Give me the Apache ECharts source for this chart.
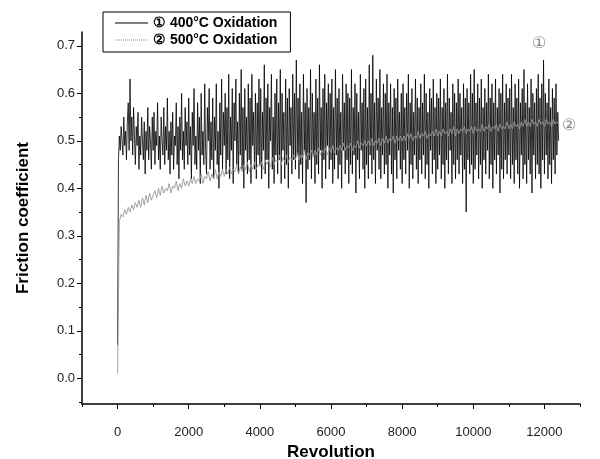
<!DOCTYPE html>
<html>
<head>
<meta charset="utf-8">
<script src="https://cdn.jsdelivr.net/npm/echarts@6/dist/echarts.min.js"></script>
<style>html,body{margin:0;padding:0;background:#fff}#c{width:600px;height:459px}</style>
</head>
<body>
<div id="c"></div>
<script>
// ---- data ----
const seriesNames = ['① 400°C Oxidation', '② 500°C Oxidation'];
const s1Step = 25;   // revolutions between samples of series 1
const s2Step = 50;   // revolutions between samples of series 2
const fric400 = [
  0.07,0.46,0.51,0.48,0.53,0.50,0.47,0.55,0.49,0.52,0.46,0.54,0.58,0.48,0.63,0.50,0.55,0.47,0.57,0.51,
  0.45,0.53,0.49,0.56,0.44,0.51,0.47,0.55,0.50,0.46,0.54,0.43,0.52,0.48,0.57,0.46,0.53,0.50,0.44,0.55,
  0.48,0.56,0.45,0.52,0.49,0.58,0.46,0.51,0.44,0.55,0.50,0.47,0.57,0.45,0.53,0.48,0.59,0.46,0.52,0.43,
  0.54,0.47,0.56,0.44,0.51,0.49,0.58,0.45,0.53,0.42,0.55,0.48,0.60,0.46,0.52,0.44,0.57,0.49,0.54,0.45,
  0.59,0.47,0.53,0.42,0.56,0.49,0.61,0.45,0.51,0.44,0.58,0.48,0.55,0.41,0.60,0.47,0.52,0.45,0.62,0.48,
  0.43,0.57,0.50,0.61,0.44,0.54,0.46,0.59,0.42,0.55,0.48,0.62,0.45,0.52,0.40,0.58,0.47,0.63,0.44,0.56,
  0.49,0.60,0.43,0.57,0.46,0.64,0.42,0.55,0.48,0.61,0.41,0.58,0.50,0.63,0.45,0.54,0.43,0.60,0.47,0.65,
  0.44,0.57,0.40,0.61,0.48,0.55,0.43,0.62,0.46,0.59,0.41,0.64,0.49,0.56,0.44,0.60,0.42,0.58,0.47,0.63,
  0.45,0.61,0.42,0.56,0.48,0.66,0.43,0.59,0.46,0.62,0.40,0.57,0.50,0.64,0.44,0.55,0.41,0.60,0.47,0.63,
  0.43,0.58,0.46,0.65,0.41,0.60,0.48,0.56,0.42,0.63,0.45,0.59,0.40,0.61,0.49,0.57,0.43,0.64,0.46,0.60,
  0.44,0.67,0.47,0.59,0.42,0.62,0.45,0.56,0.41,0.64,0.48,0.58,0.37,0.61,0.44,0.57,0.46,0.65,0.42,0.60,
  0.47,0.56,0.41,0.63,0.45,0.59,0.43,0.66,0.48,0.57,0.40,0.61,0.46,0.64,0.42,0.58,0.49,0.62,0.44,0.60,
  0.46,0.63,0.41,0.57,0.44,0.65,0.47,0.59,0.42,0.61,0.45,0.56,0.40,0.64,0.48,0.58,0.43,0.62,0.46,0.60,
  0.41,0.59,0.45,0.65,0.43,0.57,0.47,0.62,0.39,0.60,0.46,0.56,0.42,0.64,0.48,0.58,0.44,0.61,0.40,0.63,
  0.45,0.57,0.42,0.66,0.47,0.60,0.43,0.68,0.46,0.58,0.41,0.63,0.48,0.59,0.44,0.65,0.42,0.57,0.47,0.62,
  0.43,0.60,0.45,0.64,0.40,0.58,0.47,0.62,0.43,0.57,0.39,0.61,0.46,0.59,0.42,0.63,0.48,0.56,0.44,0.60,
  0.41,0.62,0.46,0.57,0.43,0.60,0.48,0.64,0.40,0.58,0.45,0.61,0.42,0.56,0.47,0.63,0.44,0.59,0.41,0.57,
  0.46,0.62,0.43,0.58,0.47,0.64,0.42,0.60,0.45,0.56,0.40,0.61,0.48,0.59,0.43,0.63,0.46,0.57,0.41,0.60,
  0.44,0.59,0.47,0.63,0.42,0.57,0.45,0.61,0.40,0.58,0.46,0.64,0.43,0.59,0.48,0.56,0.41,0.62,0.45,0.60,
  0.42,0.58,0.46,0.63,0.43,0.60,0.47,0.57,0.41,0.62,0.44,0.59,0.35,0.61,0.46,0.58,0.43,0.64,0.45,0.60,
  0.41,0.65,0.44,0.58,0.47,0.62,0.42,0.59,0.45,0.63,0.40,0.57,0.46,0.61,0.43,0.58,0.48,0.64,0.42,0.59,
  0.45,0.62,0.40,0.58,0.46,0.63,0.43,0.57,0.47,0.61,0.39,0.60,0.44,0.64,0.42,0.58,0.46,0.62,0.43,0.59,
  0.47,0.61,0.42,0.64,0.45,0.57,0.41,0.62,0.46,0.59,0.43,0.63,0.40,0.58,0.47,0.61,0.42,0.65,0.45,0.58,
  0.41,0.62,0.46,0.57,0.43,0.63,0.39,0.60,0.47,0.58,0.42,0.61,0.45,0.64,0.43,0.59,0.40,0.62,0.46,0.67,
  0.43,0.60,0.47,0.58,0.42,0.63,0.45,0.57,0.41,0.61,0.46,0.59,0.43,0.62,0.47,0.56,0.50
];
const fric500 = [
  0.01,0.33,0.345,0.34,0.355,0.345,0.36,0.35,0.365,0.355,0.37,0.36,0.375,0.36,0.38,0.365,0.385,0.37,0.39,0.375,
  0.385,0.395,0.38,0.40,0.385,0.405,0.39,0.40,0.395,0.41,0.39,0.405,0.40,0.415,0.395,0.41,0.40,0.42,0.405,0.415,
  0.405,0.42,0.41,0.425,0.41,0.42,0.415,0.43,0.41,0.425,0.42,0.435,0.415,0.43,0.42,0.44,0.42,0.435,0.425,0.44,
  0.425,0.44,0.43,0.445,0.43,0.44,0.435,0.45,0.43,0.445,0.435,0.45,0.44,0.455,0.435,0.45,0.44,0.455,0.44,0.45,
  0.445,0.455,0.44,0.46,0.45,0.46,0.445,0.465,0.45,0.46,0.455,0.47,0.45,0.465,0.455,0.47,0.455,0.465,0.46,0.47,
  0.46,0.475,0.46,0.47,0.465,0.48,0.46,0.475,0.47,0.48,0.465,0.48,0.47,0.485,0.47,0.48,0.475,0.485,0.47,0.485,
  0.475,0.49,0.475,0.485,0.48,0.49,0.48,0.495,0.48,0.49,0.485,0.495,0.48,0.49,0.485,0.50,0.485,0.495,0.49,0.50,
  0.49,0.50,0.49,0.505,0.49,0.50,0.495,0.505,0.49,0.505,0.495,0.51,0.495,0.505,0.50,0.51,0.495,0.51,0.50,0.51,
  0.50,0.51,0.50,0.515,0.505,0.515,0.50,0.51,0.505,0.52,0.505,0.515,0.51,0.52,0.505,0.515,0.51,0.52,0.51,0.525,
  0.51,0.52,0.51,0.525,0.515,0.52,0.51,0.525,0.515,0.53,0.51,0.525,0.515,0.525,0.52,0.53,0.515,0.525,0.52,0.53,
  0.515,0.53,0.52,0.525,0.52,0.535,0.52,0.53,0.525,0.535,0.52,0.53,0.525,0.535,0.52,0.535,0.525,0.53,0.525,0.54,
  0.525,0.535,0.525,0.54,0.53,0.535,0.525,0.54,0.53,0.545,0.53,0.54,0.53,0.545,0.535,0.54,0.53,0.545,0.535,0.54,
  0.53,0.545,0.535,0.54,0.53,0.545,0.535,0.54,0.535
];
const xLabelValues = [0, 2000, 4000, 6000, 8000, 10000, 12000];
const xMajorTicks = [0, 2000, 4000, 6000, 8000, 10000, 12000];
const xMinorTicks = [-1000, 1000, 3000, 5000, 7000, 9000, 11000, 13000];
const yLabelValues = [0, 0.1, 0.2, 0.3, 0.4, 0.5, 0.6, 0.7];
const yMinorTicks = [-0.05, 0.05, 0.15, 0.25, 0.35, 0.45, 0.55, 0.65];
const curveMarks = ['①', '②'];

// ---- chart ----
const font = '"Liberation Sans", Arial, sans-serif';
const chart = echarts.init(document.getElementById('c'), null, {renderer: 'canvas'});
const xMin = -1000, xMax = 13000, yMin = -0.054, yMax = 0.729;

const mkXAxis = (main) => ({
  type: 'value', min: xMin, max: xMax, position: 'bottom',
  name: main ? 'Revolution' : '', nameLocation: 'middle', nameGap: 38,
  nameTextStyle: {fontFamily: font, fontSize: 17, fontWeight: 'bold', color: '#000'},
  axisLine: {show: main, onZero: false, lineStyle: {color: '#000', width: 1.5}},
  axisTick: {show: true, inside: false, length: main ? 5 : 3, customValues: main ? xMajorTicks : xMinorTicks, lineStyle: {color: '#000', width: 1}},
  axisLabel: {show: main, customValues: xLabelValues, fontFamily: font, fontSize: 13, color: '#222', margin: 22,
    formatter: v => String(v)},
  splitLine: {show: false}
});
const mkYAxis = (main) => ({
  type: 'value', min: yMin, max: yMax, position: 'left',
  name: main ? 'Friction coefficient' : '', nameLocation: 'middle', nameGap: 50, nameRotate: 90,
  nameTextStyle: {fontFamily: font, fontSize: 17, fontWeight: 'bold', color: '#000'},
  axisLine: {show: main, onZero: false, lineStyle: {color: '#000', width: 1.5}},
  axisTick: {show: true, inside: false, length: main ? 5 : 3, customValues: main ? yLabelValues : yMinorTicks, lineStyle: {color: '#000', width: 1}},
  axisLabel: {show: main, customValues: yLabelValues, fontFamily: font, fontSize: 13, color: '#222', margin: 7,
    formatter: v => v.toFixed(1)},
  splitLine: {show: false}
});

let dots = '';
for (let k = 0; k < 33; k += 2) dots += 'M' + k + ',0h1v1h-1z';

chart.setOption({
  animation: false,
  backgroundColor: '#fff',
  grid: {left: 82, right: 20, top: 32, bottom: 55, outerBoundsMode: 'none', containLabel: false},
  xAxis: [mkXAxis(true), mkXAxis(false)],
  yAxis: [mkYAxis(true), mkYAxis(false)],
  legend: {
    left: 103, top: 12, orient: 'vertical',
    itemWidth: 33, itemHeight: 1, itemGap: 3,
    padding: [4, 13, 5, 12],
    borderColor: '#000', borderWidth: 1,
    textStyle: {fontFamily: font, fontSize: 14, fontWeight: 'bold', color: '#000'},
    data: [
      {name: seriesNames[0], icon: 'path://M0,0H33V1H0Z'},
      {name: seriesNames[1], icon: 'path://' + dots}
    ]
  },
  series: [
    {
      name: seriesNames[0], type: 'line', xAxisIndex: 0, yAxisIndex: 0,
      showSymbol: false, symbol: 'none', z: 2,
      lineStyle: {color: '#000', width: 0.8},
      itemStyle: {color: '#000'},
      data: fric400.map((v, i) => [i * s1Step, v])
    },
    {
      name: seriesNames[1], type: 'line', xAxisIndex: 0, yAxisIndex: 0,
      showSymbol: false, symbol: 'none', z: 3,
      lineStyle: {color: '#999', width: 0.9},
      itemStyle: {color: '#888'},
      data: fric500.map((v, i) => [i * s2Step, v]),
      markPoint: {
        symbol: 'circle', symbolSize: 0, silent: true,
        label: {show: true, fontSize: 16, color: '#888', fontFamily: '"DejaVu Serif", serif', formatter: p => p.name},
        data: [
          {name: curveMarks[0], coord: [11850, 0.705]},
          {name: curveMarks[1], coord: [12700, 0.532]}
        ]
      }
    }
  ]
});
</script>
</body>
</html>
